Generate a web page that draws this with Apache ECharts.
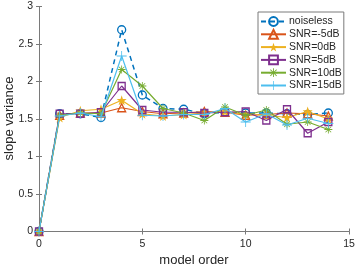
<!DOCTYPE html>
<html>
<head>
<meta charset="utf-8">
<script src="https://cdn.jsdelivr.net/npm/echarts@6/dist/echarts.min.js"></script>
<style>html,body{margin:0;padding:0;background:#fff}#c{width:357px;height:268px}</style>
</head>
<body>
<div id="c"></div>
<script>
var orders = [0,1,2,3,4,5,6,7,8,9,10,11,12,13,14];
var seriesNames = ['noiseless','SNR=-5dB','SNR=0dB','SNR=5dB','SNR=10dB','SNR=15dB'];
var noiseless = [0,1.57,1.57,1.52,2.69,1.82,1.64,1.63,1.57,1.59,1.58,1.58,1.57,1.56,1.58];
var snrM5 = [0,1.55,1.58,1.58,1.65,1.60,1.57,1.58,1.60,1.59,1.55,1.56,1.58,1.57,1.54];
var snr0 = [0,1.52,1.61,1.63,1.75,1.57,1.54,1.56,1.58,1.60,1.56,1.55,1.52,1.60,1.50];
var snr5 = [0,1.57,1.57,1.59,1.94,1.62,1.59,1.59,1.58,1.59,1.60,1.48,1.63,1.31,1.46];
var snr10 = [0,1.55,1.58,1.57,2.16,1.94,1.64,1.58,1.48,1.66,1.55,1.62,1.43,1.46,1.36];
var snr15 = [0,1.54,1.58,1.53,2.34,1.55,1.54,1.56,1.56,1.64,1.46,1.57,1.42,1.51,1.44];
var xTicks = [0,5,10,15];
var yTicks = [0,0.5,1,1.5,2,2.5,3];
var xTitle = 'model order';
var yTitle = 'slope variance';

var colors = ['#0072BD','#D95319','#EDB120','#7E2F8E','#77AC30','#4DBEEE'];
var allData = [noiseless,snrM5,snr0,snr5,snr10,snr15];
var symbols = [
  'circle',
  'triangle',
  'path://M50,0 L61.8,35.4 L99,35.4 L69,57.3 L80.3,92.7 L50,70.8 L19.7,92.7 L31,57.3 L1,35.4 L38.2,35.4 Z',
  'rect',
  'path://M45,0h10v38l27,-27l7,7l-27,27h38v10h-38l27,27l-7,7l-27,-27v38h-10v-38l-27,27l-7,-7l27,-27h-38v-10h38l-27,-27l7,-7l27,27z',
  'path://M46,0h8v46h46v8h-46v46h-8v-46h-46v-8h46z'
];
var sizes = [8,8,10,7,8,10];
var hollow = [true,true,false,true,false,false];
var font = '"Liberation Sans", Arial, Helvetica, sans-serif';

function mkSeries(i){
  return {
    name: seriesNames[i],
    type: 'line',
    data: orders.map(function(x,k){return [x, allData[i][k]];}),
    symbol: symbols[i],
    symbolSize: sizes[i],
    showAllSymbol: true,
    lineStyle: {color: colors[i], width: i===0?1.5:1.2, type: i===0?[5,4]:'solid'},
    itemStyle: hollow[i] ? {color: 'rgba(255,255,255,0)', borderColor: colors[i], borderWidth: 1.3}
                         : {color: colors[i], borderColor: colors[i], borderWidth: 0},
    color: colors[i],
    emphasis: {disabled: true},
    animation: false,
    z: 2+i
  };
}

var axisLineStyle = {color: '#7a7a7a', width: 1};
var chart = echarts.init(document.getElementById('c'), null, {renderer: 'canvas'});
chart.setOption({
  animation: false,
  grid: {left: 39, right: 8, top: 6.5, bottom: 36.5, containLabel: false, outerBoundsMode: 'none'},
  graphic: [{
    type: 'text', x: 9, y: 118.5, rotation: Math.PI/2,
    style: {text: yTitle, fontFamily: font, fontSize: 13, fill: '#262626',
            textAlign: 'center', textVerticalAlign: 'middle'}
  }],
  legend: {
    show: true,
    orient: 'vertical',
    left: 258, top: 12,
    padding: [4, 2, 3, 2],
    itemWidth: 25, itemHeight: 11, itemGap: 1.8,
    backgroundColor: '#fff',
    borderColor: '#7a7a7a', borderWidth: 1,
    textStyle: {fontFamily: font, fontSize: 10.5, color: '#262626', padding: [0,0,0,-2]},
    data: seriesNames
  },
  xAxis: [{
    type: 'value', min: 0, max: 15, interval: 5, position: 'bottom',
    name: xTitle, nameLocation: 'middle', nameGap: 21,
    nameTextStyle: {fontFamily: font, fontSize: 13, color: '#262626'},
    axisLine: {show: true, lineStyle: axisLineStyle},
    axisTick: {show: true, inside: true, length: 3, lineStyle: axisLineStyle},
    axisLabel: {fontFamily: font, fontSize: 10.5, color: '#262626', margin: 7,
      formatter: function(v){return xTicks.indexOf(v)>=0 ? String(v) : '';}},
    splitLine: {show: false}
  },{
    type: 'value', min: 0, max: 15, interval: 5, position: 'top',
    axisLine: {show: true, lineStyle: axisLineStyle},
    axisTick: {show: true, inside: true, length: 3, lineStyle: axisLineStyle},
    axisLabel: {show: false}, splitLine: {show: false}
  }],
  yAxis: [{
    type: 'value', min: 0, max: 3, interval: 0.5, position: 'left',
    axisLine: {show: true, lineStyle: axisLineStyle},
    axisTick: {show: true, inside: true, length: 3, lineStyle: axisLineStyle},
    axisLabel: {fontFamily: font, fontSize: 10.5, color: '#262626', margin: 6,
      formatter: function(v){return yTicks.indexOf(v)>=0 ? String(v) : '';}},
    splitLine: {show: false}
  },{
    type: 'value', min: 0, max: 3, interval: 0.5, position: 'right',
    axisLine: {show: true, lineStyle: axisLineStyle},
    axisTick: {show: true, inside: true, length: 3, lineStyle: axisLineStyle},
    axisLabel: {show: false}, splitLine: {show: false}
  }],
  series: [0,1,2,3,4,5].map(mkSeries)
});
</script>
</body>
</html>
